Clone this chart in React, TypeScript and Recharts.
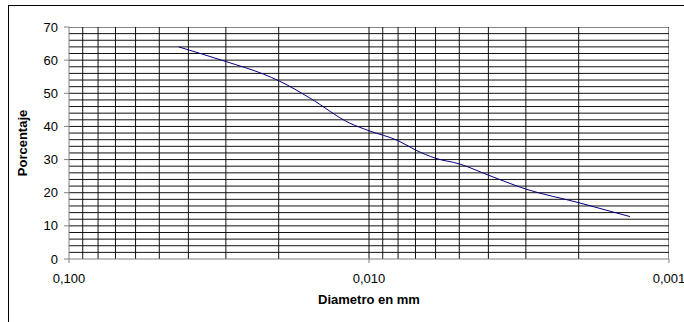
import { Line, LineChart, XAxis, YAxis, Label, ReferenceLine } from "recharts";

// diámetro (mm) y porcentaje que pasa
const diametros = [
  0.0431, 0.0298, 0.0225, 0.0199, 0.0157, 0.0116, 0.01, 0.008, 0.007, 0.006,
  0.005, 0.004, 0.003, 0.002, 0.00135,
];
const porcentajes = [
  64, 59.5, 55.8, 53.7, 48.5, 41, 38.7, 35.7, 32.9, 30.4, 28.7, 25.3, 21.1, 17,
  12.8,
];

const xTicks = [0.1, 0.01, 0.001];
const yTicks = [0, 10, 20, 30, 40, 50, 60, 70];
const xGrid = [
  0.09, 0.08, 0.07, 0.06, 0.05, 0.04, 0.03, 0.02, 0.01, 0.009, 0.008, 0.007,
  0.006, 0.005, 0.004, 0.003, 0.002, 0.001,
];
const yGrid = [
  2, 4, 6, 8, 10, 12, 14, 16, 18, 20, 22, 24, 26, 28, 30, 32, 34, 36, 38, 40,
  42, 44, 46, 48, 50, 52, 54, 56, 58, 60, 62, 64, 66, 68, 70,
];

const data = diametros.map((d, i) => ({ d, p: porcentajes[i] }));

const font = "'Liberation Sans', Arial, sans-serif";
const fmt = (v: number) => v.toFixed(3).replace(".", ",");

export default function App() {
  return (
    <div
      style={{
        position: "absolute",
        left: 0,
        top: 0,
        width: 684,
        height: 322,
        background: "#fff",
        fontFamily: font,
        overflow: "hidden",
      }}
    >
      <div
        style={{
          position: "absolute",
          left: 8,
          top: 5,
          width: 700,
          height: 340,
          borderLeft: "1px solid #000",
          borderTop: "1px solid #000",
        }}
      />
      <LineChart
        width={684}
        height={322}
        data={data}
        margin={{ top: 27, right: 15, left: 9, bottom: 23 }}
        style={{ position: "absolute", left: 0, top: 0 }}
      >
        {yGrid.map((v) => (
          <ReferenceLine key={"h" + v} y={v} stroke="#111" ifOverflow="hidden" />
        ))}
        {xGrid.map((v) => (
          <ReferenceLine key={"v" + v} x={v} stroke="#111" ifOverflow="hidden" />
        ))}
        <XAxis
          dataKey="d"
          type="number"
          scale="log"
          domain={[0.001, 0.1]}
          reversed
          ticks={xTicks}
          tickFormatter={fmt}
          allowDataOverflow
          height={40}
          tickSize={4}
          tickMargin={11}
          stroke="#808080"
          tick={{ fill: "#000", fontSize: 13, fontFamily: font }}
        >
          <Label
            value="Diametro en mm"
            position="bottom"
            offset={-4}
            style={{ fontWeight: "bold", fontSize: 13, fill: "#000", fontFamily: font }}
          />
        </XAxis>
        <YAxis
          type="number"
          domain={[0, 70]}
          ticks={yTicks}
          width={60}
          tickSize={5}
          tickMargin={6}
          stroke="#808080"
          tick={{ fill: "#000", fontSize: 13, fontFamily: font }}
        >
          <Label
            value="Porcentaje"
            angle={-90}
            position="insideLeft"
            offset={13}
            style={{
              fontWeight: "bold",
              fontSize: 13,
              fill: "#000",
              fontFamily: font,
              textAnchor: "middle",
            }}
          />
        </YAxis>
        <Line
          type="monotone"
          dataKey="p"
          stroke="#000080"
          strokeWidth={1}
          dot={false}
          isAnimationActive={false}
        />
      </LineChart>
    </div>
  );
}
